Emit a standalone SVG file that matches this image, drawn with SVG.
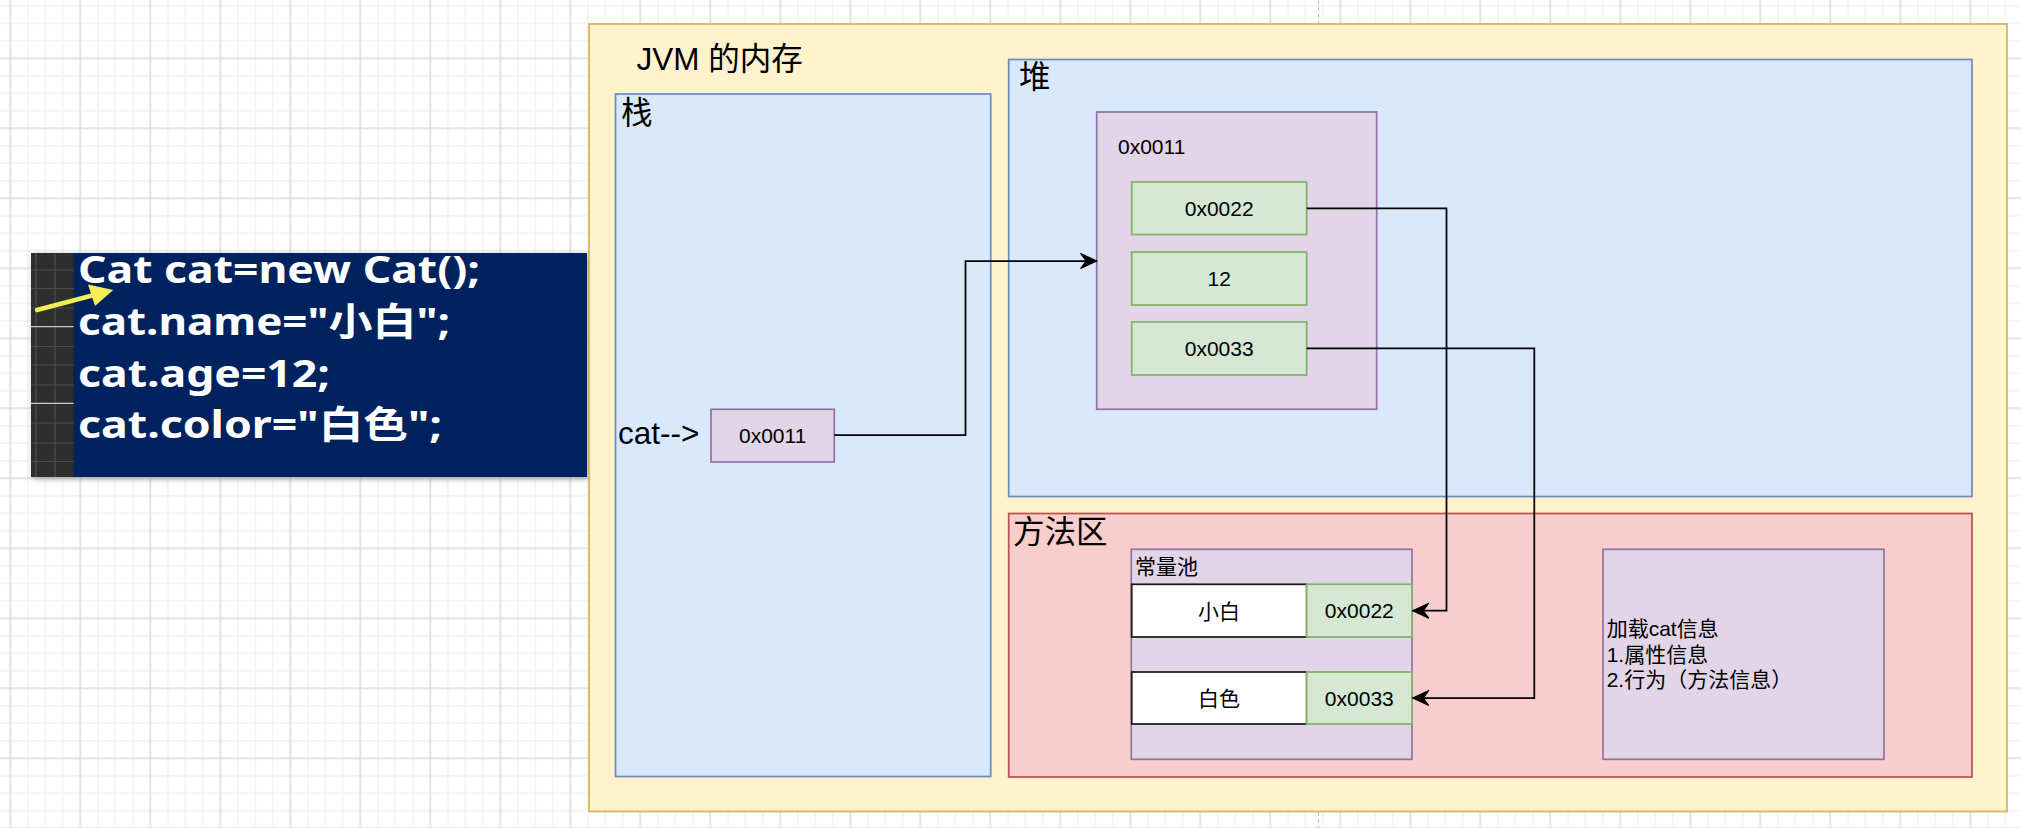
<svg xmlns="http://www.w3.org/2000/svg" width="2021" height="828" viewBox="0 0 2021 828">
  <defs>
    <pattern id="minor" patternUnits="userSpaceOnUse" x="1.55" y="-2.95" width="17.5" height="17.5">
      <path d="M8.75 0 V17.5 M0 8.75 H17.5" stroke="#f1f1f1" stroke-width="1.4" fill="none"/>
    </pattern>
    <pattern id="major" patternUnits="userSpaceOnUse" x="-24.7" y="-46.7" width="70" height="70">
      <path d="M35 0 V70 M0 35 H70" stroke="#d3d3d3" stroke-width="1" fill="none"/>
    </pattern>
    <marker id="arr" markerUnits="userSpaceOnUse" markerWidth="20" markerHeight="20" viewBox="-16 -8 18 16" refX="0" refY="0" orient="auto">
      <path d="M0 0 L-14.5 -6.8 L-9.5 0 L-14.5 6.8 Z" fill="#000" stroke="#000" stroke-width="1"/>
    </marker>
    <filter id="shadow" x="-10%" y="-10%" width="125%" height="130%">
      <feDropShadow dx="2" dy="2" stdDeviation="3" flood-color="#000" flood-opacity="0.3"/>
    </filter>
  </defs>
  <style>
    .big { font-family: "Liberation Sans", "Noto Sans CJK SC", sans-serif; font-size: 31.5px; fill: #000; }
    .sm { font-family: "Liberation Sans", "Noto Sans CJK SC", sans-serif; font-size: 21px; fill: #000; }
    .mid { text-anchor: middle; }
    .code { font-family: "Noto Sans", "Noto Sans CJK SC", sans-serif; font-size: 37.5px; font-weight: bold; fill: #fff; }
    .yellow { fill: #fff2cc; stroke: #d6b656; stroke-width: 1.75; }
    .blue { fill: #dae8fc; stroke: #6c8ebf; stroke-width: 1.75; }
    .red { fill: #f8cecc; stroke: #b85450; stroke-width: 1.75; }
    .purple { fill: #e1d5e7; stroke: #9673a6; stroke-width: 1.75; }
    .green { fill: #d5e8d4; stroke: #82b366; stroke-width: 1.75; }
    .white { fill: #ffffff; stroke: #1a1a1a; stroke-width: 1.75; }
    .edge { fill: none; stroke: #000; stroke-width: 1.75; marker-end: url(#arr); }
  </style>

  <!-- background grid -->
  <rect x="0" y="0" width="2021" height="828" fill="#ffffff"/>
  <rect x="0" y="0" width="2021" height="828" fill="url(#minor)"/>
  <rect x="0" y="0" width="2021" height="828" fill="url(#major)"/>
  <line x1="1318.5" y1="0" x2="1318.5" y2="828" stroke="#bfbfbf" stroke-width="1" stroke-dasharray="4 3"/>

  <!-- code screenshot -->
  <g id="code">
    <g filter="url(#shadow)">
      <rect x="31" y="253" width="556" height="224" fill="#00205e"/>
    </g>
    <rect x="31" y="253" width="42.5" height="224" fill="#2e2e2e"/>
    <g stroke="#4d4d4d" stroke-width="1.2">
      <line x1="36" y1="253" x2="36" y2="477"/>
      <line x1="55" y1="253" x2="55" y2="477"/>
      <line x1="31" y1="270" x2="73.5" y2="270"/>
      <line x1="31" y1="288.5" x2="73.5" y2="288.5"/>
      <line x1="31" y1="308" x2="73.5" y2="308"/>
      <line x1="31" y1="346.5" x2="73.5" y2="346.5"/>
      <line x1="31" y1="365" x2="73.5" y2="365"/>
      <line x1="31" y1="385" x2="73.5" y2="385"/>
      <line x1="31" y1="423" x2="73.5" y2="423"/>
      <line x1="31" y1="443" x2="73.5" y2="443"/>
      <line x1="31" y1="461.5" x2="73.5" y2="461.5"/>
    </g>
    <g stroke="#c9c9c9" stroke-width="1.2">
      <line x1="31" y1="326.7" x2="73.5" y2="326.7"/>
      <line x1="31" y1="403.3" x2="73.5" y2="403.3"/>
    </g>
    <text class="code" x="78" y="283.3" textLength="402" lengthAdjust="spacingAndGlyphs">Cat cat=new Cat();</text>
    <text class="code" x="78" y="334.5" textLength="372" lengthAdjust="spacingAndGlyphs">cat.name="小白";</text>
    <text class="code" x="78" y="386.5" textLength="252" lengthAdjust="spacingAndGlyphs">cat.age=12;</text>
    <text class="code" x="78" y="437.5" textLength="364" lengthAdjust="spacingAndGlyphs">cat.color="白色";</text>
    <line x1="37" y1="310" x2="96" y2="294.5" stroke="#f3ee55" stroke-width="4.5" stroke-linecap="round"/>
    <polygon points="113.3,290 88,284.5 95,306" fill="#f3ee55"/>
  </g>

  <!-- JVM memory container -->
  <g id="jvm">
    <rect class="yellow" x="589" y="24" width="1418" height="787.5"/>
    <text class="big" x="636.5" y="69.5">JVM 的内存</text>
  </g>

  <!-- stack -->
  <g id="stack">
    <rect class="blue" x="615.5" y="94" width="375.2" height="682.5"/>
    <text class="big" x="621" y="123.5">栈</text>
    <text class="big" x="618" y="443.5">cat--&gt;</text>
  </g>
  <g id="stack-ref">
    <rect class="purple" x="711" y="409.3" width="123.3" height="52.7"/>
    <text class="sm mid" x="772.7" y="443">0x0011</text>
  </g>

  <!-- heap -->
  <g id="heap">
    <rect class="blue" x="1008.7" y="59.5" width="963.3" height="437"/>
    <text class="big" x="1019" y="87.5">堆</text>
  </g>
  <g id="heap-object">
    <rect class="purple" x="1096.7" y="112" width="280" height="297.3"/>
    <text class="sm" x="1118" y="154">0x0011</text>
  </g>
  <g id="field-name">
    <rect class="green" x="1131.7" y="182" width="175" height="52.5"/>
    <text class="sm mid" x="1219.2" y="215.5">0x0022</text>
  </g>
  <g id="field-age">
    <rect class="green" x="1131.7" y="252" width="175" height="53"/>
    <text class="sm mid" x="1219.2" y="286">12</text>
  </g>
  <g id="field-color">
    <rect class="green" x="1131.7" y="322" width="175" height="53"/>
    <text class="sm mid" x="1219.2" y="356">0x0033</text>
  </g>

  <!-- method area -->
  <g id="method-area">
    <rect class="red" x="1008.7" y="513.5" width="963.3" height="263.5"/>
    <text class="big" x="1013" y="543">方法区</text>
  </g>
  <g id="constant-pool">
    <rect class="purple" x="1131.3" y="549.3" width="280.7" height="210"/>
    <text class="sm" x="1135" y="573.5">常量池</text>
  </g>
  <g id="const-xiaobai">
    <rect class="white" x="1131.7" y="584.3" width="175" height="52.7"/>
    <text class="sm mid" x="1219" y="618.5">小白</text>
  </g>
  <g id="const-xiaobai-addr">
    <rect class="green" x="1306.7" y="584.3" width="105.3" height="52.7"/>
    <text class="sm mid" x="1359.3" y="618">0x0022</text>
  </g>
  <g id="const-baise">
    <rect class="white" x="1131.7" y="672" width="175" height="52"/>
    <text class="sm mid" x="1219" y="705.5">白色</text>
  </g>
  <g id="const-baise-addr">
    <rect class="green" x="1306.7" y="672" width="105.3" height="52"/>
    <text class="sm mid" x="1359.3" y="705.5">0x0033</text>
  </g>
  <g id="class-info">
    <rect class="purple" x="1603" y="549.3" width="281" height="210"/>
    <text class="sm" x="1606.7" y="636.3">加载cat信息</text>
    <text class="sm" x="1606.7" y="661.5">1.属性信息</text>
    <text class="sm" x="1606.7" y="686.7">2.行为（方法信息）</text>
  </g>

  <!-- connectors -->
  <g id="connectors">
    <path class="edge" d="M834.3 435 H965.5 V261 H1096.7"/>
    <path class="edge" d="M1306.7 208.3 H1446.5 V610.7 H1412.7"/>
    <path class="edge" d="M1306.7 348.3 H1534.3 V698 H1412.7"/>
  </g>
</svg>
